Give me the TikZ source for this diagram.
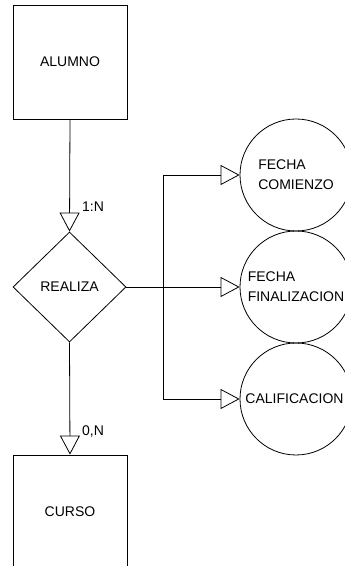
\documentclass[tikz,border=0pt]{standalone}
\usepackage{fontspec}
\setmainfont{Liberation Sans}
\usetikzlibrary{arrows.meta,shapes.geometric}

\tikzset{
    entidad/.style={draw, line width=0.8pt, minimum width=114pt, minimum height=114pt, inner sep=0pt},
    relacion/.style={draw, diamond, line width=0.8pt, minimum width=113pt, minimum height=110pt, inner sep=0pt},
    atributo/.style={draw, circle, line width=0.8pt, minimum size=112pt, inner sep=0pt, align=left},
    card/.style={-{Triangle[open,length=19pt,width=20pt]}, line width=0.8pt},
    linea/.style={line width=0.8pt}
}

\begin{document}
\begin{tikzpicture}[x=1pt, y=1pt, font=\fontsize{14}{20}\selectfont]

        \useasboundingbox (0,0) rectangle (345,566);

        % 1. Entidades y relacion (columna izquierda)
        \node[entidad] (alumno) at (70,504) {ALUMNO};
        \node[relacion] (realiza) at (69.5,279) {REALIZA};
        \node[entidad] (curso) at (70,54) {CURSO};

        % 2. Atributos de la relacion (circulos a la derecha)
        \node[atributo] (comienzo) at (296,391) {FECHA\\COMIENZO};
        \node[atributo] (finalizacion) at (296,279) {FECHA\\FINALIZACION};
        \node[atributo] (calificacion) at (296,167) {\hspace*{-3pt}CALIFICACION};

        % 3. Conexiones con cardinalidad
        \draw[card] (alumno.south) -- (realiza.north);
        \node[anchor=west, inner sep=0pt] (card1) at (82,359) {1:N};
        \draw[card] (realiza.south) -- (curso.north);
        \node[anchor=west, inner sep=0pt] (card2) at (82,134) {0,N};

        % 4. Ramas hacia los atributos
        \coordinate (rama) at (163,279);
        \draw[card] (realiza.east) -- (finalizacion.west);
        \draw[card] (rama) |- (comienzo.west);
        \draw[card] (rama) |- (calificacion.west);

    \end{tikzpicture}
\end{document}
